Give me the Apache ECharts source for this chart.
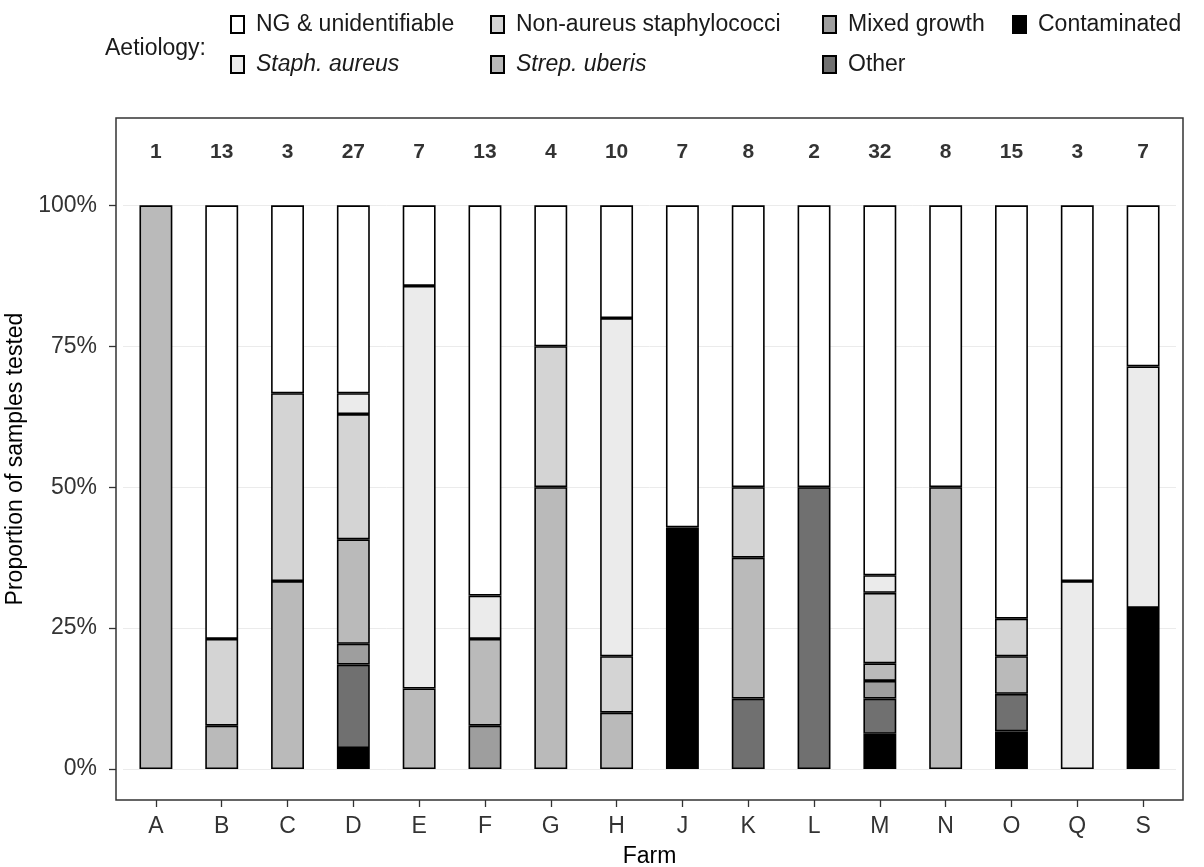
<!DOCTYPE html>
<html><head><meta charset="utf-8">
<script src="https://cdn.jsdelivr.net/npm/echarts@6/dist/echarts.min.js"></script>
<style>html,body{margin:0;padding:0;background:#fff}#c{width:1204px;height:867px}</style>
</head><body><div id="c"></div>
<script>
const farms = ['A','B','C','D','E','F','G','H','J','K','L','M','N','O','Q','S'];
const nSamples = [1,13,3,27,7,13,4,10,7,8,2,32,8,15,3,7];
// counts per aetiology, stacked bottom -> top
const contaminated = [0,0,0,1,0,0,0,0,3,0,0,2,0,1,0,2];
const other        = [0,0,0,4,0,0,0,0,0,1,1,2,0,1,0,0];
const mixedGrowth  = [0,0,0,1,0,1,0,0,0,0,0,1,0,0,0,0];
const strepUberis  = [1,1,1,5,1,2,2,1,0,2,0,1,4,1,0,0];
const nonAureus    = [0,2,1,6,0,0,1,1,0,1,0,4,0,1,0,0];
const staphAureus  = [0,0,0,1,5,1,0,6,0,0,0,1,0,0,1,3];
const ngUnident    = [0,10,1,9,1,9,1,2,4,4,1,21,4,11,2,2];
const yTicks = [0,0.25,0.5,0.75,1];
const labelLevel = 1.1;

const seriesDefs = [
  {name:'Contaminated', data:contaminated, color:'#000000'},
  {name:'Other', data:other, color:'#707070'},
  {name:'Mixed growth', data:mixedGrowth, color:'#9e9e9e'},
  {name:'Strep. uberis', data:strepUberis, color:'#bababa'},
  {name:'Non-aureus staphylococci', data:nonAureus, color:'#d4d4d4'},
  {name:'Staph. aureus', data:staphAureus, color:'#ebebeb'},
  {name:'NG & unidentifiable', data:ngUnident, color:'#ffffff'}
];

const FONT = 'Liberation Sans, Arial, sans-serif';
const FS = 23;
const series = seriesDefs.map(s => ({
  name: s.name, type: 'bar', stack: 'total', barWidth: '50%', z: 3,
  itemStyle: {color: s.color, borderColor: '#000', borderWidth: 1.6},
  emphasis: {disabled: true},
  data: s.data.map((v,i) => v === 0 ? null : v / nSamples[i])
}));
series.push({
  type: 'scatter', symbolSize: 0, silent: true, z: 4,
  data: farms.map(() => labelLevel),
  label: {show: true, position: 'inside', offset: [0, 3], formatter: p => String(nSamples[p.dataIndex]),
    color: '#000', fontWeight: 'bold', fontSize: 21, fontFamily: FONT}
});
series.push({
  type: 'line', data: [], silent: true, z: 1,
  markLine: {silent: true, symbol: 'none', label: {show: false}, z: 1,
    lineStyle: {color: '#ebebeb', width: 1, type: 'solid'},
    data: yTicks.map(v => ({yAxis: v}))}
});

const legendPos = [
  ['NG & unidentifiable', 230, 13, false],
  ['Staph. aureus', 230, 53, true],
  ['Non-aureus staphylococci', 490, 13, false],
  ['Strep. uberis', 490, 53, true],
  ['Mixed growth', 822, 13, false],
  ['Other', 822, 53, false],
  ['Contaminated', 1012, 13, false]
];
const legends = legendPos.map(([nm,l,t,it]) => ({
  data: [{name: nm, icon: 'rect'}], left: l, top: t, itemWidth: 13, itemHeight: 17, itemGap: 0,
  selectedMode: false, padding: 0,
  textStyle: {fontSize: FS, fontFamily: FONT, color: '#1a1a1a', fontStyle: it ? 'italic' : 'normal', padding: [0,0,0,7]}
}));

const chart = echarts.init(document.getElementById('c'));
chart.setOption({
  animation: false,
  backgroundColor: '#fff',
  title: {text: 'Aetiology:', left: 100, top: 32,
    textStyle: {fontSize: FS, fontWeight: 'normal', fontFamily: FONT, color: '#1a1a1a'}},
  legend: legends,
  grid: {left: 123, width: 1053, top: 118, height: 682, containLabel: false, outerBoundsMode: 'none'},
  xAxis: {
    type: 'category', data: farms,
    axisLine: {show: false, onZero: false},
    axisTick: {show: true, alignWithLabel: true, length: 7, lineStyle: {color: '#333', width: 1.3}},
    axisLabel: {fontSize: FS, fontFamily: FONT, color: '#333', margin: 15},
    name: 'Farm', nameLocation: 'middle', nameGap: 45,
    nameTextStyle: {fontSize: FS, fontFamily: FONT, color: '#000'}
  },
  yAxis: {
    type: 'value', min: -0.055, max: 1.155, offset: 7,
    axisLine: {show: false},
    splitLine: {show: false},
    axisTick: {show: true, length: 7, customValues: yTicks, lineStyle: {color: '#333', width: 1.3}},
    axisLabel: {fontSize: FS, fontFamily: FONT, color: '#333', margin: 19, customValues: yTicks,
      formatter: v => Math.round(v * 100) + '%'},
    name: 'Proportion of samples tested', nameLocation: 'middle', nameGap: 79,
    nameTextStyle: {fontSize: FS, fontFamily: FONT, color: '#000'}
  },
  graphic: [{type: 'rect', silent: true, z: 100,
    shape: {x: 116, y: 118, width: 1067, height: 682},
    style: {fill: 'none', stroke: '#333', lineWidth: 1.5}}],
  series: series
});
</script></body></html>
